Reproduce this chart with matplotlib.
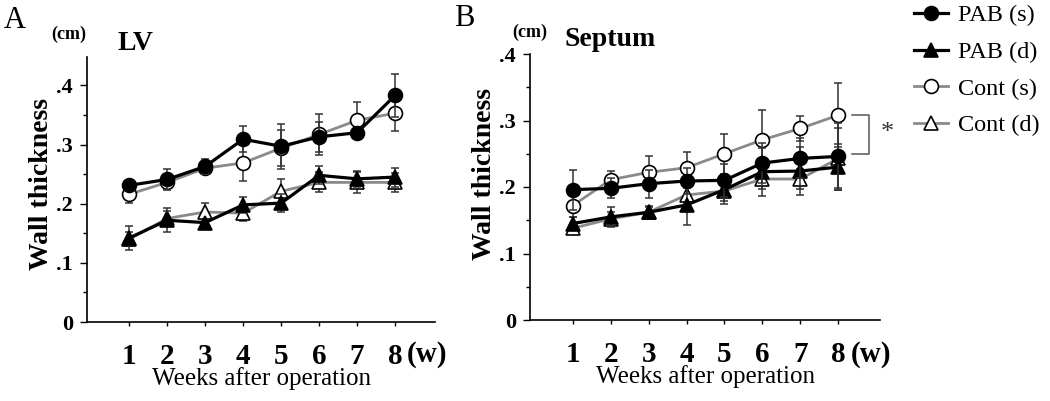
import matplotlib
matplotlib.use("Agg")
import matplotlib.pyplot as plt
from matplotlib.lines import Line2D
from matplotlib.ticker import MultipleLocator

plt.rcParams["font.family"] = ["Liberation Serif", "DejaVu Serif"]

W, H = 1050, 401

weeks = [1, 2, 3, 4, 5, 6, 7, 8]
week_labels = ["1", "2", "3", "4", "5", "6", "7", "8"]

# LV (panel A)
lv_pab_s = [0.231, 0.241, 0.263, 0.309, 0.297, 0.313, 0.320, 0.383]
lv_pab_s_err = [0.008, 0.018, 0.012, 0.022, 0.038, 0.025, 0.008, 0.036]
lv_pab_d = [0.142, 0.172, 0.168, 0.198, 0.201, 0.248, 0.242, 0.245]
lv_pab_d_err = [0.020, 0.020, 0.006, 0.013, 0.015, 0.015, 0.013, 0.016]
lv_cont_s = [0.216, 0.236, 0.260, 0.269, 0.294, 0.317, 0.341, 0.353]
lv_cont_s_err = [0.015, 0.008, 0.008, 0.030, 0.030, 0.034, 0.031, 0.030]
lv_cont_d = [0.140, 0.175, 0.186, 0.184, 0.221, 0.236, 0.236, 0.236]
lv_cont_d_err = [0.012, 0.012, 0.015, 0.013, 0.020, 0.017, 0.018, 0.016]

# Septum (panel B)
sp_pab_s = [0.196, 0.198, 0.205, 0.209, 0.210, 0.236, 0.243, 0.246]
sp_pab_s_err = [0.030, 0.015, 0.021, 0.020, 0.025, 0.030, 0.030, 0.050]
sp_pab_d = [0.145, 0.155, 0.162, 0.173, 0.196, 0.223, 0.224, 0.230]
sp_pab_d_err = [0.010, 0.015, 0.010, 0.030, 0.022, 0.036, 0.036, 0.035]
sp_cont_s = [0.172, 0.211, 0.222, 0.229, 0.250, 0.271, 0.288, 0.308]
sp_cont_s_err = [0.017, 0.013, 0.024, 0.023, 0.030, 0.045, 0.019, 0.048]
sp_cont_d = [0.138, 0.152, 0.162, 0.188, 0.194, 0.212, 0.212, 0.243]
sp_cont_d_err = [0.008, 0.010, 0.008, 0.010, 0.015, 0.015, 0.015, 0.045]

GREY = "#8a8a8a"
ERR = "#333333"

styles = {
    "PAB (s)": dict(color="black", marker="o", mfc="black", lw=2.3),
    "PAB (d)": dict(color="black", marker="^", mfc="black", lw=2.3),
    "Cont (s)": dict(color=GREY, marker="o", mfc="white", lw=2.0),
    "Cont (d)": dict(color=GREY, marker="^", mfc="white", lw=2.0),
}


def px_box(left, right, top, bottom):
    return [left / W, 1 - bottom / H, (right - left) / W, (bottom - top) / H]


def draw_panel(ax, series, xlim, ylim, axis_bottom_px, w_x):
    # control groups first so PAB sits on top
    for z, (name, y, err) in enumerate(series):
        st = styles[name]
        ax.errorbar(weeks, y, yerr=err, fmt="none", ecolor=ERR, elinewidth=1.1,
                    capsize=3, capthick=1.1, zorder=2 + z * 3)
        ax.plot(weeks, y, color=st["color"], lw=st["lw"], zorder=3 + z * 3)
        ax.plot(weeks, y, linestyle="none", marker=st["marker"], ms=10,
                mfc=st["mfc"], mec="black", mew=1.2, zorder=4 + z * 3)
    ax.set_xlim(*xlim)
    ax.set_ylim(*ylim)
    for s in ["top", "right"]:
        ax.spines[s].set_visible(False)
    ax.spines["left"].set_linewidth(1.2)
    ax.spines["bottom"].set_linewidth(1.2)
    ax.set_xticks(weeks)
    ax.set_xticklabels(week_labels, fontsize=21, fontweight="bold")
    ax.tick_params(axis="x", length=3, width=1, pad=12)
    ax.yaxis.set_major_locator(MultipleLocator(0.1))
    ax.yaxis.set_minor_locator(MultipleLocator(0.05))
    ax.set_yticks([0, 0.1, 0.2, 0.3, 0.4])
    ax.set_yticklabels(["0", ".1", ".2", ".3", ".4"], fontsize=16, fontweight="bold")
    ax.tick_params(axis="y", which="major", length=5, width=1, pad=5)
    ax.tick_params(axis="y", which="minor", length=3, width=1)
    ax.set_xlabel("Weeks after operation", fontsize=18, labelpad=-2)
    ax.set_ylabel("Wall thickness", fontsize=20, fontweight="bold")
    # "(w)" unit after the last tick label, on the same row
    ax.text(w_x, 0, "(w)", fontsize=21, fontweight="bold", ha="left", va="center",
            clip_on=False,
            transform=ax.transData + matplotlib.transforms.ScaledTranslation(
                0, -(355 - axis_bottom_px) / 100, fig.dpi_scale_trans))


fig = plt.figure(figsize=(W / 100, H / 100), dpi=100)

axA = fig.add_axes(px_box(87, 435, 57, 322))
draw_panel(axA, [("Cont (d)", lv_cont_d, lv_cont_d_err),
                 ("Cont (s)", lv_cont_s, lv_cont_s_err),
                 ("PAB (d)", lv_pab_d, lv_pab_d_err),
                 ("PAB (s)", lv_pab_s, lv_pab_s_err)],
           (-0.11, 9.05), (0, 0.448), 322, 8.3)
axA.yaxis.set_label_coords(-0.095, 0.52)

axB = fig.add_axes(px_box(530, 880, 54, 320))
draw_panel(axB, [("Cont (d)", sp_cont_d, sp_cont_d_err),
                 ("Cont (s)", sp_cont_s, sp_cont_s_err),
                 ("PAB (d)", sp_pab_d, sp_pab_d_err),
                 ("PAB (s)", sp_pab_s, sp_pab_s_err)],
           (-0.125, 9.1), (0, 0.4), 320, 8.32)
axB.yaxis.set_label_coords(-0.094, 0.55)

# significance bracket
axB.plot([8.37, 8.82, 8.82, 8.37], [0.309, 0.309, 0.250, 0.250], color="#555555",
         lw=1.1, clip_on=False)
axB.text(9.3, 0.281, "*", fontsize=19, ha="center", va="center", color="#333333")

# panel letters and titles
fig.text(15 / W, 1 - 20 / H, "A", fontsize=22, ha="center", va="center")
fig.text(69 / W, 1 - 34 / H, "(cm)", fontsize=13, fontweight="bold", ha="center", va="center")
fig.text(136 / W, 1 - 43 / H, "LV", fontsize=20, fontweight="bold", ha="center", va="center")
fig.text(464 / W, 1 - 18 / H, "B", fontsize=22, ha="center", va="center")
fig.text(530 / W, 1 - 32 / H, "(cm)", fontsize=13, fontweight="bold", ha="center", va="center")
fig.text(610 / W, 1 - 40 / H, "Septum", fontsize=20, fontweight="bold", ha="center", va="center")

handles = []
for name in ["PAB (s)", "PAB (d)", "Cont (s)", "Cont (d)"]:
    st = styles[name]
    handles.append(Line2D([], [], color=st["color"], lw=st["lw"], marker=st["marker"],
                          ms=10, mfc=st["mfc"], mec="black", mew=1.2, label=name))
fig.legend(handles=handles, loc="upper left", bbox_to_anchor=(912 / W, 0.995),
           frameon=False, fontsize=17.5, handlelength=1.4, handletextpad=0.4,
           labelspacing=0.6, borderaxespad=0, borderpad=0.1)

fig.savefig("out.png", dpi=100)
